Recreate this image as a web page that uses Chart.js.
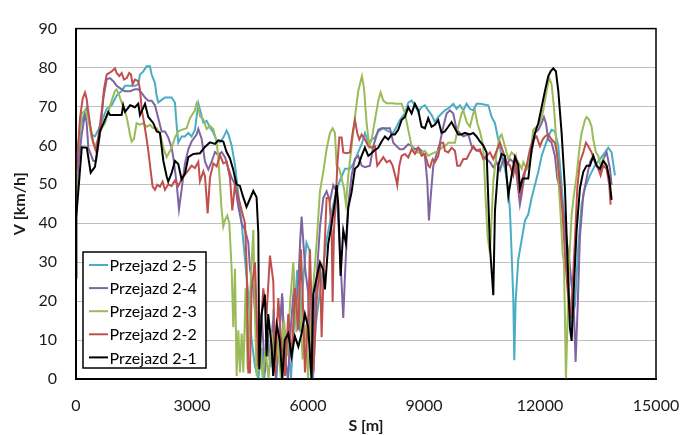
<!DOCTYPE html>
<html>
<head>
<meta charset="utf-8">
<script src="https://cdn.jsdelivr.net/npm/chart.js@4.4.1/dist/chart.umd.min.js"></script>
<style>
  html, body { margin: 0; padding: 0; background: #fff; }
  #wrap { width: 680px; height: 435px; }
</style>
</head>
<body>
<div id="wrap"><canvas id="speedChart" width="680" height="435"></canvas></div>
<script>
// przebieg predkosci V [km/h] w funkcji drogi S [m], pary [S, V]
const przejazd21 = [[0,26],[10,42],[150,59.5],[280,59.4],[380,53],[490,54.5],[620,63.6],[835,68.6],[880,67.8],[1180,67.8],[1220,70.3],[1267,68.6],[1400,70.3],[1525,69.8],[1610,70.7],[1655,67.8],[1785,70.7],[1870,67.3],[2000,65.7],[2085,63.6],[2170,63.2],[2260,56],[2345,52],[2385,50.7],[2470,52.8],[2560,56],[2645,55.2],[2730,51.3],[2820,52.8],[2905,57],[3035,57.8],[3206,58],[3335,59.6],[3465,60.8],[3595,60.4],[3680,61.3],[3810,61],[3895,58.3],[3980,56.7],[4065,53.8],[4150,50],[4240,49.6],[4325,46.7],[4410,44.2],[4500,46.3],[4585,48.3],[4670,46.7],[4715,37.5],[4740,2.5],[4800,16.7],[4885,21.7],[4930,5.8],[4970,16.7],[5060,8.3],[5100,0.8],[5190,14],[5270,10],[5335,0],[5400,10],[5490,11.7],[5575,5.8],[5660,11],[5750,8.3],[5835,11.7],[5920,16.7],[6005,13.3],[6090,0],[6135,21.7],[6220,25.8],[6310,30],[6395,28],[6438,23],[6524,34.8],[6611,39.8],[6697,45.7],[6740,49.8],[6783,44.8],[6843,26.5],[6912,38.2],[6981,34.8],[7041,44],[7127,48],[7213,54],[7300,54.8],[7386,57.3],[7472,59.4],[7559,57.3],[7644,58],[7730,58.8],[7816,59.4],[7903,61],[7989,62.3],[8075,61.5],[8162,62.8],[8247,62.8],[8334,64],[8420,66.5],[8506,67.3],[8593,69.8],[8679,68.2],[8765,70.7],[8852,69],[8937,64.8],[9023,64.4],[9109,67],[9195,64.8],[9282,65.3],[9368,66.5],[9454,63.2],[9540,63.6],[9626,64.8],[9712,66],[9798,64.4],[9885,62.8],[9971,62.8],[10057,63.2],[10187,62.8],[10273,63.2],[10359,62.3],[10445,61],[10531,60],[10619,58.2],[10706,34],[10792,21.5],[10835,43.2],[10921,54.8],[11007,57.8],[11094,57.3],[11180,47],[11266,52.3],[11352,57],[11438,55],[11481,49],[11550,51.5],[11697,51.5],[11783,59],[11869,63.2],[11956,65.7],[12042,69.8],[12128,74],[12214,77.8],[12275,79],[12343,79.8],[12412,79],[12473,74],[12559,63.2],[12645,49],[12705,32.3],[12774,13.2],[12818,9.8],[12878,24],[12947,38.2],[13033,49],[13119,53.2],[13205,54.8],[13292,54.8],[13378,57.3],[13464,54.8],[13550,54],[13636,56],[13723,54.8],[13792,51.5],[13852,46]];

const przejazd22 = [[0,54.8],[17,54.4],[103,67],[172,72],[232,73.6],[275,72],[319,68.6],[379,64.4],[448,60.7],[517,58.6],[577,62],[663,68.6],[724,74.4],[793,78.2],[862,78.6],[922,79],[1008,79.8],[1051,78.6],[1120,77.8],[1181,78.6],[1240,76.9],[1310,77.3],[1379,78.6],[1422,78.2],[1465,75.7],[1525,76.9],[1611,76.5],[1655,74.4],[1697,69.4],[1740,67],[1809,62.8],[1870,58.6],[1930,53.6],[1982,49.4],[2042,48.6],[2102,49.9],[2172,49.4],[2240,50.7],[2301,48.6],[2387,50],[2473,49.6],[2559,51],[2645,49.6],[2731,51.3],[2817,52.5],[2904,53.6],[2990,54.8],[3077,54.2],[3163,55.8],[3206,50.8],[3293,53.3],[3336,52],[3405,42.5],[3465,51.7],[3551,55.4],[3637,54.6],[3724,57.5],[3810,55.4],[3896,55.8],[3982,51.7],[4042,43.3],[4111,50],[4198,46.7],[4284,43.3],[4370,40],[4413,29.2],[4456,1.7],[4499,1.7],[4542,23.3],[4629,30],[4715,3.3],[4844,23.3],[4930,16.7],[5016,31.7],[5103,25],[5146,1.7],[5232,20.8],[5318,8.3],[5404,0.8],[5490,16.7],[5577,5],[5663,23.3],[5749,12.5],[5818,33.3],[5878,16.7],[5921,1.7],[6008,16.7],[6051,33.3],[6137,1.7],[6223,20],[6309,29.8],[6352,10.7],[6412,29.8],[6481,46.5],[6550,46.5],[6611,38],[6637,19.8],[6671,38.2],[6723,46.5],[6757,54.8],[6809,62],[6869,62],[6912,58.2],[6999,58],[7085,58.2],[7154,63.2],[7214,66.5],[7274,63.2],[7326,61.5],[7387,62.8],[7473,61.5],[7559,59.8],[7645,59.4],[7731,59.8],[7792,54.8],[7860,55.7],[7947,57],[8033,55.7],[8119,56.1],[8188,54.8],[8274,51.5],[8309,49.8],[8361,54.8],[8421,57.3],[8507,57.8],[8593,56.9],[8680,59],[8766,57.8],[8852,59.4],[8938,57.3],[9024,57.8],[9111,54.8],[9154,54.4],[9223,56.5],[9283,55.7],[9369,57.3],[9430,60.7],[9498,60.7],[9542,58.6],[9628,58.2],[9714,59.4],[9800,58.6],[9860,54.8],[9929,54.8],[10016,56.5],[10102,56.5],[10188,58.2],[10274,59.8],[10360,58.6],[10447,59],[10533,56.5],[10619,57.3],[10706,58.2],[10792,56.5],[10878,58.6],[10964,60.7],[11050,58.2],[11137,55.7],[11223,54.8],[11309,52.3],[11378,56.5],[11438,50.7],[11499,47.3],[11568,52.3],[11654,54.8],[11740,59],[11826,61.5],[11912,62.3],[11999,59.8],[12068,61.5],[12128,62.3],[12214,62.8],[12300,61.5],[12386,60.7],[12447,57.3],[12516,50.7],[12585,42.3],[12645,32.3],[12705,24],[12757,18.2],[12792,15.7],[12843,24],[12904,35.7],[12964,49],[13033,55.7],[13119,58.2],[13188,60.7],[13248,59.8],[13335,58.2],[13421,55.7],[13507,54],[13567,52.3],[13636,54.8],[13723,54],[13792,49.8],[13826,44.8]];

const przejazd23 = [[0,42],[17,56],[146,68.2],[232,69],[318,66.9],[404,62],[490,59.4],[577,62],[663,64.4],[750,65.7],[836,68.6],[922,71.5],[1008,74],[1051,74.4],[1120,72.8],[1181,71],[1267,69],[1327,66.5],[1396,62.8],[1439,61],[1499,61.7],[1568,65.7],[1655,65.3],[1740,65.7],[1827,64.8],[1913,65.3],[1999,64.4],[2085,64.4],[2172,63.2],[2258,59.4],[2344,57],[2387,57.8],[2473,59.4],[2559,62],[2645,63.6],[2731,64],[2861,64.4],[2947,67],[3076,69],[3120,70.8],[3163,70],[3206,67.5],[3293,66.7],[3379,64.2],[3465,65],[3551,64.2],[3637,60.8],[3680,57],[3724,50],[3767,43.3],[3810,39.2],[3853,40.8],[3913,42],[3965,40],[4025,28.3],[4068,13.3],[4111,28.3],[4154,0.8],[4198,12.5],[4241,1.7],[4284,11.7],[4327,1.7],[4387,23.3],[4439,2.5],[4499,20.8],[4586,38.3],[4629,16.7],[4672,0.8],[4750,10],[4830,0],[4900,8],[4980,0],[5060,12],[5140,2],[5220,9],[5300,0],[5380,15],[5460,6],[5540,20],[5620,30],[5700,12],[5780,24],[5860,5],[5940,14],[6000,0],[6094,18.3],[6223,35],[6309,48.2],[6395,53.2],[6481,59],[6568,63.2],[6637,64.4],[6697,63.2],[6740,54.8],[6809,54],[6869,51.5],[6930,49],[6981,44.8],[7042,52.3],[7128,59.8],[7214,67.3],[7300,74],[7361,76.5],[7395,77.8],[7447,74.8],[7516,65.7],[7585,59.8],[7645,61.5],[7731,66.5],[7818,71.5],[7878,73.6],[7947,71.5],[8033,70.8],[8162,70.8],[8292,70.7],[8421,70.7],[8507,68.2],[8593,64],[8680,59.8],[8766,58.2],[8852,58.2],[8938,58.2],[9024,58.6],[9111,57.3],[9197,57.8],[9283,58.2],[9369,58.6],[9455,59.4],[9542,59.8],[9628,60.7],[9714,60.7],[9800,60.7],[9886,64.8],[9973,68.2],[10016,69],[10102,66],[10188,64.8],[10274,68.2],[10317,69],[10378,65.7],[10447,63.6],[10533,59.8],[10593,46.5],[10645,36.5],[10706,32.3],[10792,50.7],[10878,58.2],[10964,62.3],[11007,62.8],[11094,59.8],[11180,56.5],[11266,58.2],[11352,57.3],[11438,55.7],[11525,54],[11568,55.7],[11654,54],[11740,57.3],[11826,64],[11912,64.8],[11999,65.7],[12085,69],[12171,74],[12240,77.3],[12300,75.7],[12361,69.8],[12430,59.8],[12490,49],[12542,40.7],[12585,32.3],[12619,30],[12645,15.7],[12671,0],[12714,15.7],[12757,30.7],[12818,42.3],[12878,47.3],[12947,52.3],[13016,59],[13076,63.2],[13162,66.5],[13205,67.3],[13274,66.5],[13335,64.8],[13378,61.5],[13447,58.2],[13507,57.3],[13567,54.8],[13636,56.5],[13723,54.8],[13792,51.5],[13826,47.3]];

const przejazd24 = [[0,42],[60,55],[150,63],[232,68],[274,66],[319,59.4],[448,56],[517,56],[620,62.8],[707,72],[793,77],[879,77.3],[965,76.5],[1051,75.3],[1181,74.4],[1267,73.9],[1396,73.9],[1525,74.4],[1611,74.4],[1697,73.5],[1784,72.3],[1870,71.5],[1956,71.5],[2042,70.3],[2128,67],[2215,63.6],[2301,63.6],[2387,62],[2473,59.4],[2516,57],[2602,50.3],[2663,43.6],[2731,48.6],[2817,55.3],[2904,59],[2990,61],[3119,62.8],[3163,64.2],[3249,61.7],[3336,55.8],[3422,53.8],[3508,55.8],[3594,58.3],[3680,57.5],[3767,58.3],[3853,57],[3939,54.2],[4025,51.7],[4111,50],[4198,44.2],[4284,40],[4370,38.3],[4456,35],[4499,28.3],[4586,23.3],[4672,11.7],[4801,16.7],[4887,1.7],[4950,12],[5020,4],[5100,15],[5170,0],[5250,10],[5330,22],[5400,6],[5480,0],[5560,14],[5640,24],[5720,18],[5800,36],[5835,41.7],[5880,35],[5930,28],[6000,22.5],[6060,10],[6100,0],[6170,18],[6250,30],[6309,39],[6395,46.5],[6481,48.2],[6568,45.7],[6654,49.8],[6740,48.2],[6826,33.2],[6912,15.7],[6956,26.5],[7042,44.8],[7128,52.3],[7214,56.5],[7300,57.3],[7387,54.8],[7473,54.4],[7602,54.8],[7688,59.8],[7818,64],[7904,64.4],[8033,64.4],[8119,64.4],[8205,60.7],[8292,59.8],[8378,59],[8464,59],[8593,60.3],[8680,59.8],[8766,59],[8852,59.4],[8938,58.6],[9024,57.3],[9085,50.7],[9128,40.7],[9171,46.5],[9240,54.8],[9326,57.8],[9412,60.7],[9498,64.8],[9585,68.2],[9671,69],[9757,68.2],[9843,64],[9929,63.2],[10016,62.3],[10145,62.8],[10231,59.8],[10317,59],[10447,58.5],[10533,56.9],[10619,56.5],[10706,55.7],[10792,54.4],[10878,55.7],[10964,53.6],[11050,56.5],[11137,54.8],[11223,56.5],[11309,55.7],[11395,52.3],[11481,44.8],[11525,47.3],[11611,53.2],[11697,54.8],[11783,58.2],[11869,63.2],[11956,64],[12042,65.7],[12102,67.3],[12154,65.7],[12214,61.5],[12300,60.7],[12386,57.3],[12447,51.5],[12516,49],[12602,43.2],[12688,35.7],[12757,30.7],[12818,24],[12861,22.3],[12921,4.4],[12973,18.2],[13033,36.5],[13119,47.3],[13205,51.5],[13292,55.7],[13378,57.3],[13464,54.8],[13550,53.2],[13636,56.5],[13723,58.2],[13809,54],[13852,49.8]];

const przejazd25 = [[0,42],[30,55],[120,65],[232,68.6],[277,69.8],[404,62.8],[490,62.3],[577,64],[663,66.1],[793,69.4],[922,70.3],[1051,72.8],[1181,74],[1267,75.3],[1396,75.3],[1525,75.3],[1611,75.7],[1655,78.2],[1740,79],[1827,80.3],[1913,80.3],[1956,78.2],[2042,76],[2085,72.8],[2128,71],[2215,71.7],[2301,72.3],[2473,72.3],[2559,71],[2602,65.3],[2645,60.7],[2731,62.3],[2817,62.3],[2904,63.2],[2990,62.3],[3076,64],[3163,70.8],[3206,69.2],[3293,65.8],[3379,66.3],[3465,64.6],[3551,63.3],[3637,61.3],[3724,60.8],[3810,62],[3896,63.8],[3939,62.9],[4025,60],[4111,55],[4198,47.5],[4284,40],[4370,30.8],[4456,21.7],[4542,10],[4629,3.3],[4715,0],[4800,8],[4870,0],[4950,12],[5030,3],[5110,18],[5180,0],[5270,14],[5340,21],[5400,2],[5480,10],[5560,0],[5650,16],[5720,28],[5800,12],[5880,26],[5960,35],[6040,33],[6090,10],[6130,0],[6200,14],[6309,22.3],[6481,35.7],[6654,44.8],[6783,49.8],[6826,51],[6956,54],[7085,54],[7171,55.3],[7257,57.3],[7387,60.3],[7473,63.2],[7559,60.7],[7645,61.5],[7731,62],[7818,63.6],[7947,64.4],[8076,63.6],[8205,63.2],[8292,64.8],[8378,66.5],[8507,68.2],[8593,71],[8680,71.5],[8766,70.3],[8852,68.6],[8938,69.8],[9024,70.3],[9111,69],[9197,67.8],[9283,66],[9369,67.3],[9455,68.2],[9542,69],[9671,69.8],[9757,70.7],[9843,69.4],[9929,70.3],[10016,69],[10102,70.7],[10188,69.4],[10274,69],[10360,70.7],[10447,70.7],[10663,70.3],[10749,67.3],[10835,65.7],[10921,61.5],[11007,57.3],[11094,54],[11180,49],[11223,43.2],[11266,32.3],[11309,20.7],[11335,4.8],[11369,19.8],[11438,30.7],[11525,35.7],[11611,40.7],[11697,42.3],[11783,46.5],[11869,49.8],[11956,53.2],[12042,57.3],[12128,59.8],[12214,62.3],[12300,64],[12386,63.6],[12473,59.8],[12533,53.2],[12602,44],[12671,34],[12731,24],[12818,14],[12904,19],[12990,34],[13076,44.8],[13162,49],[13292,52.3],[13421,54.8],[13550,56.5],[13680,58.2],[13766,59.4],[13852,58.2],[13938,52.3]];

const seriesNames = ['Przejazd 2-1', 'Przejazd 2-2', 'Przejazd 2-3', 'Przejazd 2-4', 'Przejazd 2-5'];
const seriesData = [przejazd21, przejazd22, przejazd23, przejazd24, przejazd25];
const seriesColors = ['#000000', '#C0504D', '#9BBB59', '#8064A2', '#4BACC6'];

const xMax = 15000, xStep = 3000;
const yMax = 90, yStep = 10;

Chart.defaults.font.family = 'Lato, "Open Sans", sans-serif';
Chart.defaults.font.size = 16;
Chart.defaults.color = '#1a1a1a';

// ramka wykresu + legenda w lewym dolnym rogu pola wykresu
const frameLegend = {
  id: 'frameLegend',
  afterDatasetsDraw(chart) {
    const { ctx, chartArea: a } = chart;
    ctx.save();
    ctx.strokeStyle = '#000';
    ctx.lineWidth = 1.5;
    ctx.strokeRect(a.left, a.top, a.right - a.left, a.bottom - a.top);

    const bx = 83, by = 252, bw = 123, bh = 116;
    ctx.fillStyle = '#fff';
    ctx.fillRect(bx, by, bw, bh);
    ctx.strokeRect(bx, by, bw, bh);

    const ds = chart.data.datasets.slice().reverse();
    ctx.font = '16px Lato, "Open Sans", sans-serif';
    ctx.textBaseline = 'middle';
    ds.forEach((d, i) => {
      const y = 265 + i * 23.1;
      ctx.strokeStyle = d.borderColor;
      ctx.lineWidth = 2;
      ctx.beginPath();
      ctx.moveTo(89, y);
      ctx.lineTo(108, y);
      ctx.stroke();
      ctx.fillStyle = '#000';
      ctx.fillText(d.label, 109.5, y + 1);
    });
    ctx.restore();
  }
};

new Chart(document.getElementById('speedChart'), {
  type: 'line',
  data: {
    datasets: seriesData.map((pts, i) => ({
      label: seriesNames[i],
      data: pts.map(p => ({ x: p[0], y: p[1] })),
      borderColor: seriesColors[i],
      borderWidth: 2,
      pointRadius: 0,
      tension: 0,
      fill: false
    }))
  },
  options: {
    responsive: false,
    animation: false,
    devicePixelRatio: 1,
    layout: { padding: { top: 20, right: 0, left: 0, bottom: 0 } },
    plugins: {
      legend: { display: false },
      tooltip: { enabled: false }
    },
    scales: {
      x: {
        type: 'linear',
        min: 0,
        max: xMax,
        afterFit: s => { s.height = 56; s.paddingLeft = 0; s.paddingRight = 24; },
        ticks: { stepSize: xStep, padding: 17, maxRotation: 0, callback: v => String(v) },
        grid: { display: false, drawTicks: false },
        border: { display: true, color: '#000', width: 2 },
        title: { display: true, text: 'S [m]', font: { weight: 'bold', size: 16 }, padding: { top: 0, bottom: 0 } }
      },
      y: {
        min: 0,
        max: yMax,
        afterFit: s => { s.width = 76; },
        ticks: { stepSize: yStep, padding: 19 },
        grid: { color: '#BFBFBF', lineWidth: 1, drawTicks: false },
        border: { display: true, color: '#000', width: 2 },
        title: { display: true, text: 'V [km/h]', font: { weight: 'bold', size: 16 }, padding: { top: 10, bottom: 0 } }
      }
    }
  },
  plugins: [frameLegend]
});
</script>
</body>
</html>
